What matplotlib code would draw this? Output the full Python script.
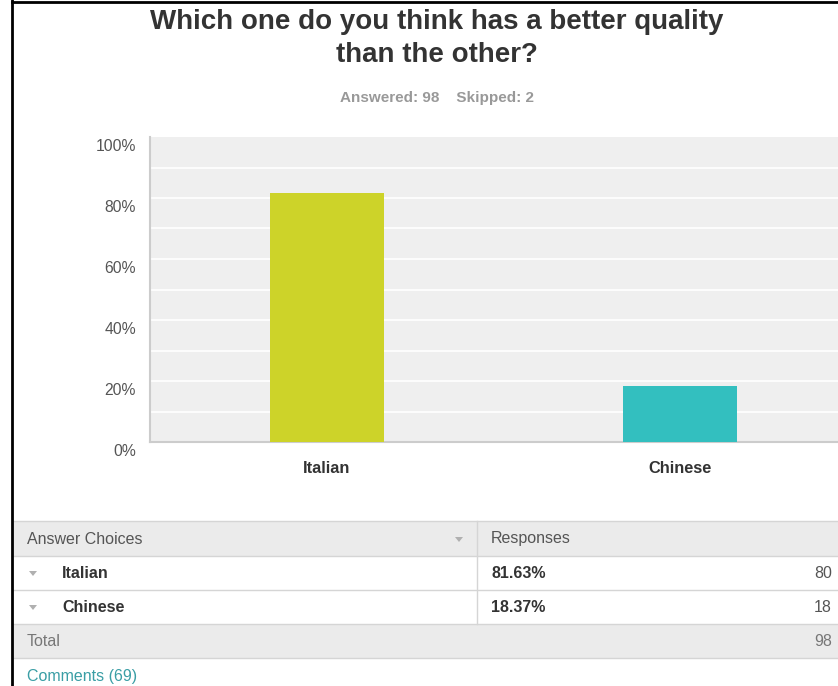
import matplotlib.pyplot as plt
import matplotlib.transforms as mtransforms
from matplotlib.patches import Rectangle, Polygon

plt.rcParams['font.family'] = ['Liberation Sans', 'DejaVu Sans']

# survey results
choices = ['Italian', 'Chinese']
counts = [80, 18]
answered = 98
skipped = 2
comments = 69
bar_colors = ['#cdd329', '#33bfbf']
y_ticks = [0, 20, 40, 60, 80, 100]

total = sum(counts)
percents = [c / total * 100 for c in counts]

W, H = 838, 686
fig = plt.figure(figsize=(W / 100, H / 100), dpi=100)

# overlay in pixel coordinates for title, table and frame
ov = fig.add_axes([0, 0, 1, 1])
ov.set_xlim(0, W)
ov.set_ylim(H, 0)
ov.axis('off')

# bar chart
ax = fig.add_axes([150 / W, 1 - 442 / H, (W - 150) / W, (442 - 137) / H])
ax.set_facecolor('#efefef')
x = list(range(len(choices)))
ax.bar(x, percents, width=0.323, color=bar_colors, zorder=3)
ax.set_xlim(-0.5, 1.446)
ax.set_ylim(0, 100)
for g in range(10, 100, 10):
    ax.axhline(g, color='white', lw=1.2, zorder=1)
ax.set_yticks(y_ticks)
ax.set_yticklabels([f'{t}%' for t in y_ticks])
ax.tick_params(axis='y', length=0, pad=10, labelsize=11.3, labelcolor='#555555')
ax.set_xticks(x)
ax.set_xticklabels(choices, fontweight='bold')
ax.tick_params(axis='x', length=0, pad=14, labelsize=11.8, labelcolor='#333333')
for s in ['top', 'right']:
    ax.spines[s].set_visible(False)
for s in ['left', 'bottom']:
    ax.spines[s].set_color('#cccccc')
    ax.spines[s].set_linewidth(1.5)

# y tick labels sit a little below their gridline
offset = mtransforms.ScaledTranslation(0, -6 / 72, fig.dpi_scale_trans)
for lab in ax.get_yticklabels():
    lab.set_transform(lab.get_transform() + offset)

# title and summary
ov.text(437, 22, 'Which one do you think has a better quality', ha='center', va='center',
        fontsize=20, fontweight='bold', color='#333333')
ov.text(437, 55, 'than the other?', ha='center', va='center',
        fontsize=20, fontweight='bold', color='#333333')
ov.text(437, 98, f'Answered: {answered}    Skipped: {skipped}', ha='center', va='center',
        fontsize=11, fontweight='bold', color='#999999')

# table
rows_y = [521, 556, 590, 624, 658]
ov.add_patch(Rectangle((12, rows_y[0]), W - 12, rows_y[1] - rows_y[0], color='#ebebeb', lw=0))
ov.add_patch(Rectangle((12, rows_y[3]), W - 12, rows_y[4] - rows_y[3], color='#ebebeb', lw=0))
for yy in rows_y:
    ov.plot([12, W], [yy, yy], color='#d5d5d5', lw=1)
ov.plot([477, 477], [rows_y[0], rows_y[3]], color='#d5d5d5', lw=1)


def arrow(cx, cy, col='#b0b0b0'):
    ov.add_patch(Polygon([[cx - 4, cy - 2], [cx + 4, cy - 2], [cx, cy + 3]], closed=True,
                         color=col, lw=0))


ov.text(27, 539, 'Answer Choices', ha='left', va='center', fontsize=11.5, color='#555555')
arrow(459, 539)
ov.text(491, 539, 'Responses', ha='left', va='center', fontsize=11.5, color='#555555')
for i, name in enumerate(choices):
    cy = (rows_y[i + 1] + rows_y[i + 2]) / 2
    arrow(33, cy)
    ov.text(62, cy, name, ha='left', va='center', fontsize=11.5, fontweight='bold', color='#333333')
    ov.text(491, cy, f'{percents[i]:.2f}%', ha='left', va='center', fontsize=11.5,
            fontweight='bold', color='#333333')
    ov.text(832, cy, str(counts[i]), ha='right', va='center', fontsize=11.5, color='#555555')
ov.text(27, 641, 'Total', ha='left', va='center', fontsize=11.5, color='#777777')
ov.text(832, 641, str(total), ha='right', va='center', fontsize=11.5, color='#777777')
ov.text(27, 677, f'Comments ({comments})', ha='left', va='center', fontsize=11.5, color='#3a9ea5')

# outer frame
ov.plot([12, 12], [0, H], color='black', lw=2)
ov.plot([12, W], [1.5, 1.5], color='black', lw=2)

fig.savefig('out.png', dpi=100, facecolor='white')
